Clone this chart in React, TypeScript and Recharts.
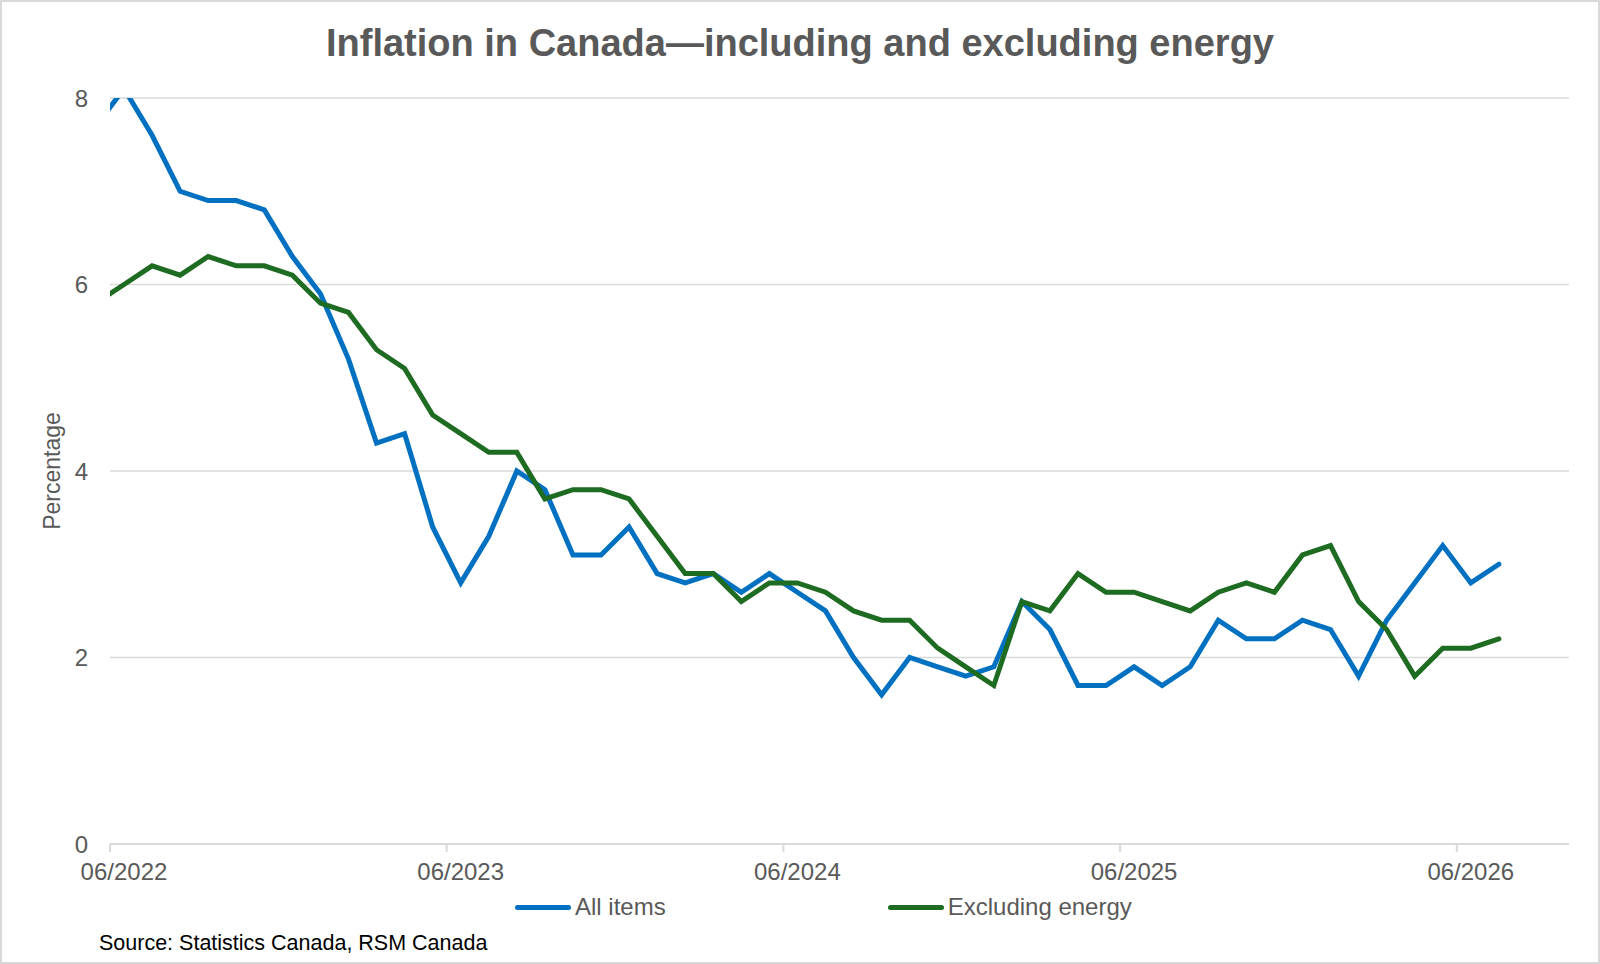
import React from "react";
import { LineChart, Line, XAxis, YAxis, CartesianGrid } from "recharts";

// month position of each reading, measured from 06/2022 on the axis
const firstMonth = -0.5;

const allItems = [
  7.7, 8.1, 7.6, 7.0, 6.9, 6.9, 6.8, 6.3, 5.9, 5.2, 4.3, 4.4, 3.4, 2.8, 3.3, 4.0, 3.8,
  3.1, 3.1, 3.4, 2.9, 2.8, 2.9, 2.7, 2.9, 2.7, 2.5, 2.0, 1.6, 2.0, 1.9, 1.8, 1.9, 2.6,
  2.3, 1.7, 1.7, 1.9, 1.7, 1.9, 2.4, 2.2, 2.2, 2.4, 2.3, 1.8, 2.4, 2.8, 3.2, 2.8, 3.0,
];

const excludingEnergy = [
  5.8, 6.0, 6.2, 6.1, 6.3, 6.2, 6.2, 6.1, 5.8, 5.7, 5.3, 5.1, 4.6, 4.4, 4.2, 4.2, 3.7,
  3.8, 3.8, 3.7, 3.3, 2.9, 2.9, 2.6, 2.8, 2.8, 2.7, 2.5, 2.4, 2.4, 2.1, 1.9, 1.7, 2.6,
  2.5, 2.9, 2.7, 2.7, 2.6, 2.5, 2.7, 2.8, 2.7, 3.1, 3.2, 2.6, 2.3, 1.8, 2.1, 2.1, 2.2,
];

const xTicks = [0, 12, 24, 36, 48];
const xTickLabels = ["06/2022", "06/2023", "06/2024", "06/2025", "06/2026"];
const yTicks = [0, 2, 4, 6, 8];

const series = [
  { key: "all", name: "All items", color: "#0070C0" },
  { key: "exEnergy", name: "Excluding energy", color: "#1E6B22" },
];

const data = allItems.map((v, i) => ({
  t: firstMonth + i,
  all: v,
  exEnergy: excludingEnergy[i],
}));

const FONT = "'Liberation Sans', Arial, sans-serif";
const GREY = "#595959";

function XTick({ x, y, payload }: { x?: number; y?: number; payload?: { value: number } }) {
  const idx = xTicks.indexOf(payload?.value ?? -1);
  return (
    <text x={(x ?? 0) + 14} y={y} dy="0.71em" textAnchor="middle" fontSize={24} fill={GREY} fontFamily={FONT}>
      {xTickLabels[idx]}
    </text>
  );
}

function YTick({ x, y, payload }: { x?: number; y?: number; payload?: { value: number } }) {
  return (
    <text x={x} y={y} dy="0.355em" textAnchor="end" fontSize={24} fill={GREY} fontFamily={FONT}>
      {payload?.value}
    </text>
  );
}

export default function App() {
  return (
    <div
      style={{
        position: "absolute",
        left: 0,
        top: 0,
        width: 1600,
        height: 964,
        boxSizing: "border-box",
        border: "2px solid #d9d9d9",
        background: "#fff",
        fontFamily: FONT,
      }}
    >
      <div
        style={{
          position: "absolute",
          left: 0,
          right: 0,
          top: 18,
          textAlign: "center",
          fontSize: 38,
          fontWeight: "bold",
          color: GREY,
          lineHeight: "46px",
        }}
      >
        Inflation in Canada—including and excluding energy
      </div>

      <div
        style={{
          position: "absolute",
          left: 52 - 2,
          top: 471 - 2,
          transform: "translate(-50%, -50%) rotate(-90deg)",
          fontSize: 23,
          color: GREY,
          whiteSpace: "nowrap",
        }}
      >
        Percentage
      </div>

      <div style={{ position: "absolute", left: -2, top: -2 }}>
        <LineChart width={1600} height={964} data={data} margin={{ top: 98, right: 31, bottom: 90, left: 50 }}>
          <CartesianGrid horizontal vertical={false} stroke="#d9d9d9" strokeWidth={1.5} />
          <XAxis
            type="number"
            dataKey="t"
            domain={[0, 52]}
            ticks={xTicks}
            allowDataOverflow
            interval={0}
            tick={<XTick />}
            tickSize={8}
            tickMargin={11}
            axisLine={{ stroke: "#d9d9d9", strokeWidth: 2 }}
            tickLine={{ stroke: "#d9d9d9", strokeWidth: 2 }}
            height={30}
          />
          <YAxis
            type="number"
            domain={[0, 8]}
            ticks={yTicks}
            allowDataOverflow
            axisLine={false}
            tickLine={false}
            tickSize={0}
            tickMargin={22}
            tick={<YTick />}
            width={60}
          />
          {series.map((s) => (
            <Line
              key={s.key}
              type="linear"
              dataKey={s.key}
              name={s.name}
              stroke={s.color}
              strokeWidth={5}
              strokeLinecap="round"
              dot={false}
              activeDot={false}
              isAnimationActive={false}
            />
          ))}
        </LineChart>
      </div>

      <div
        style={{
          position: "absolute",
          left: 515 - 2,
          top: 907 - 2,
          transform: "translateY(-50%)",
          display: "flex",
          alignItems: "center",
          gap: 222,
          fontSize: 24,
          color: GREY,
        }}
      >
        {series.map((s) => (
          <div key={s.key} style={{ display: "flex", alignItems: "center" }}>
            <div style={{ width: 56, height: 5, borderRadius: 3, background: s.color, marginRight: 4 }} />
            <span style={{ whiteSpace: "nowrap" }}>{s.name}</span>
          </div>
        ))}
      </div>

      <div
        style={{
          position: "absolute",
          left: 99 - 2,
          top: 930 - 2,
          fontSize: 21.5,
          color: "#000",
          whiteSpace: "nowrap",
          lineHeight: "26px",
        }}
      >
        Source: Statistics Canada, RSM Canada
      </div>
    </div>
  );
}
